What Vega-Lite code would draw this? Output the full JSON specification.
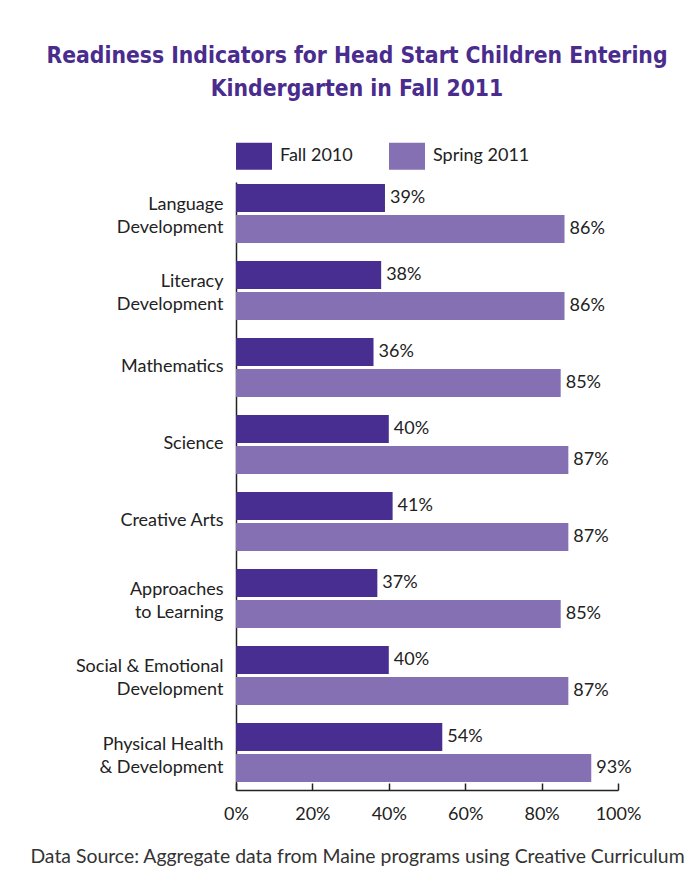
{
  "$schema": "https://vega.github.io/schema/vega-lite/v6.json",
  "autosize": "none",
  "width": 382,
  "height": 608,
  "padding": {"left": 236, "top": 182, "right": 80, "bottom": 98},
  "background": "white",
  "config": {"view": {"stroke": null}, "font": "Lato"},
  "title": {
    "text": ["Readiness Indicators for Head Start Children Entering", "Kindergarten in Fall 2011"],
    "font": "DejaVu Sans Condensed",
    "fontWeight": "bold",
    "fontSize": 22.7,
    "color": "#4a2c8e",
    "anchor": "middle",
    "frame": "group",
    "dx": -70,
    "offset": 37,
    "lineHeight": 33
  },
  "data": {
    "values": [
      {"indicator": "Language\nDevelopment", "series": "Fall 2010", "value": 0.39},
      {"indicator": "Language\nDevelopment", "series": "Spring 2011", "value": 0.86},
      {"indicator": "Literacy\nDevelopment", "series": "Fall 2010", "value": 0.38},
      {"indicator": "Literacy\nDevelopment", "series": "Spring 2011", "value": 0.86},
      {"indicator": "Mathematics", "series": "Fall 2010", "value": 0.36},
      {"indicator": "Mathematics", "series": "Spring 2011", "value": 0.85},
      {"indicator": "Science", "series": "Fall 2010", "value": 0.40},
      {"indicator": "Science", "series": "Spring 2011", "value": 0.87},
      {"indicator": "Creative Arts", "series": "Fall 2010", "value": 0.41},
      {"indicator": "Creative Arts", "series": "Spring 2011", "value": 0.87},
      {"indicator": "Approaches\nto Learning", "series": "Fall 2010", "value": 0.37},
      {"indicator": "Approaches\nto Learning", "series": "Spring 2011", "value": 0.85},
      {"indicator": "Social & Emotional\nDevelopment", "series": "Fall 2010", "value": 0.40},
      {"indicator": "Social & Emotional\nDevelopment", "series": "Spring 2011", "value": 0.87},
      {"indicator": "Physical Health\n& Development", "series": "Fall 2010", "value": 0.54},
      {"indicator": "Physical Health\n& Development", "series": "Spring 2011", "value": 0.93}
    ]
  },
  "encoding": {
    "y": {
      "field": "indicator",
      "type": "nominal",
      "sort": null,
      "scale": {"paddingInner": 0.234, "paddingOuter": 0.065, "align": 0.2},
      "axis": {
        "title": null,
        "ticks": false,
        "domainColor": "#222",
        "domainWidth": 1.5,
        "labelExpr": "split(datum.label, '\\n')",
        "labelFont": "Lato",
        "labelFontSize": 18,
        "labelColor": "#222",
        "labelLineHeight": 23,
        "labelPadding": 13,
        "labelLimit": 250,
        "labelOffset": {"condition": {"test": "indexof(datum.label, '\\n') >= 0", "value": -8}, "value": 0}
      }
    },
    "yOffset": {"field": "series", "type": "nominal", "scale": {"paddingInner": 0.1}},
    "x": {
      "field": "value",
      "type": "quantitative",
      "scale": {"domain": [0, 1]},
      "axis": {
        "values": [0, 0.2, 0.4, 0.6, 0.8, 1],
        "format": ".0%",
        "grid": false,
        "labelFlush": false,
        "labelFont": "Lato",
        "labelFontSize": 18,
        "labelColor": "#222",
        "labelPadding": 22,
        "labelBaseline": "top",
        "tickSize": -7,
        "tickColor": "#222",
        "tickWidth": 1.5,
        "domainColor": "#222",
        "domainWidth": 1.5,
        "title": "Data Source: Aggregate data from Maine programs using Creative Curriculum",
        "titleFont": "Lato",
        "titleFontSize": 19.4,
        "titleFontWeight": "normal",
        "titleColor": "#333",
        "titleX": 121,
        "titleY": 57,
        "titleAlign": "center",
        "titleBaseline": "top"
      }
    }
  },
  "layer": [
    {
      "mark": {"type": "bar"},
      "encoding": {
        "color": {
          "field": "series",
          "type": "nominal",
          "scale": {"domain": ["Fall 2010", "Spring 2011"], "range": ["#482e91", "#8470b3"]},
          "legend": {
            "title": null,
            "orient": "top",
            "direction": "horizontal",
            "offset": 12,
            "symbolType": "M-1,-0.75L1,-0.75L1,0.75L-1,0.75Z",
            "symbolSize": 1296,
            "symbolStrokeWidth": 0,
            "labelFont": "Lato",
            "labelFontSize": 18,
            "labelColor": "#222",
            "labelOffset": 8,
            "columnPadding": 36
          }
        }
      }
    },
    {
      "mark": {"type": "text", "align": "left", "dx": 5, "font": "Lato", "fontSize": 18, "color": "#222"},
      "encoding": {
        "text": {"field": "value", "type": "quantitative", "format": ".0%"},
        "detail": {"field": "series"}
      }
    }
  ]
}
